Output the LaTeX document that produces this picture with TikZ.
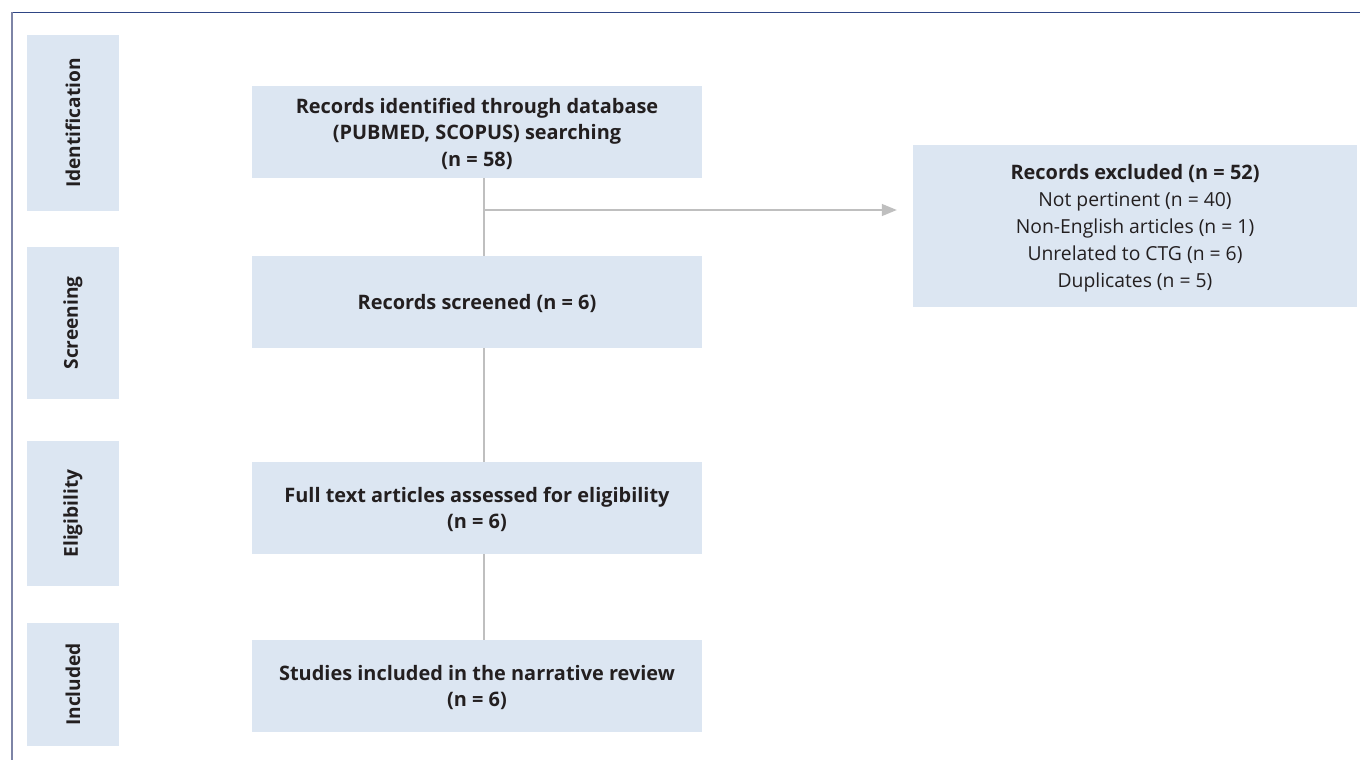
\documentclass[tikz,border=0pt]{standalone}
\usepackage{fontspec}
\setmainfont{Open Sans}
\usetikzlibrary{arrows.meta}
\definecolor{boxblue}{HTML}{DCE6F2}
\definecolor{linegray}{HTML}{BFBFBF}
\definecolor{framenavy}{HTML}{2E4584}
\definecolor{framegray}{HTML}{7D84A6}
\definecolor{inkdark}{HTML}{231F20}
\tikzset{stage/.style={fill=boxblue,text=inkdark,align=center,inner sep=0pt,
           font=\bfseries\fontsize{20}{26.5}\selectfont,text depth=0pt,
           minimum width=450bp,minimum height=92bp},
         phase/.style={fill=boxblue,text=inkdark,rotate=90,inner sep=0pt,
           font=\bfseries\fontsize{19.2}{21}\selectfont,minimum height=92bp},
         link/.style={draw=linegray,line width=1.4bp}}

\begin{document}
\begin{tikzpicture}[x=1bp,y=-1bp]
                  \useasboundingbox (0,0) rectangle (1360,760);
                  \draw[framenavy,line width=1.5bp] (12,12.5) -- (1360,12.5);
                  \draw[framegray,line width=1.5bp] (12,12.5) -- (12,760);
                  % phases on the left
                  \node[phase,minimum width=176bp] (ident) at (73,123) {Identification};
                  \node[phase,minimum width=152bp] (screen) at (73,323) {Screening};
                  \node[phase,minimum width=145bp] (elig) at (73,513.5) {Eligibility};
                  \node[phase,minimum width=123bp] (incl) at (73,684.5) {Included};
                  % flow boxes
                  \node[stage] (rec) at (477,132) {Records identified through database\\(PUBMED, SCOPUS) searching\\(n = 58)};
                  \node[stage] (scr) at (477,302) {Records screened (n = 6)};
                  \node[stage] (full) at (477,508) {Full text articles assessed for eligibility\\(n = 6)};
                  \node[stage] (stud) at (477,686) {Studies included in the narrative review\\(n = 6)};
                  \node[stage,font=\fontsize{19.4}{27}\selectfont,minimum width=444bp,minimum height=162bp] (excl) at (1135,226)
                       {\textbf{\fontsize{20}{27}\selectfont Records excluded (n = 52)}\\Not pertinent (n = 40)\\Non-English articles (n = 1)\\Unrelated to CTG (n = 6)\\Duplicates (n = 5)};
                  \draw[link] ([xshift=7bp]rec.south) -- ([xshift=7bp]scr.north);
                  \draw[link] ([xshift=7bp]scr.south) -- ([xshift=7bp]full.north);
                  \draw[link] ([xshift=7bp]full.south) -- ([xshift=7bp]stud.north);
                  \coordinate (split) at (485,210);
                  \draw[link,-{Triangle[length=15bp,width=12bp]},shorten >=16bp] (split) -- (split -| excl.west);
              \end{tikzpicture}
\end{document}
